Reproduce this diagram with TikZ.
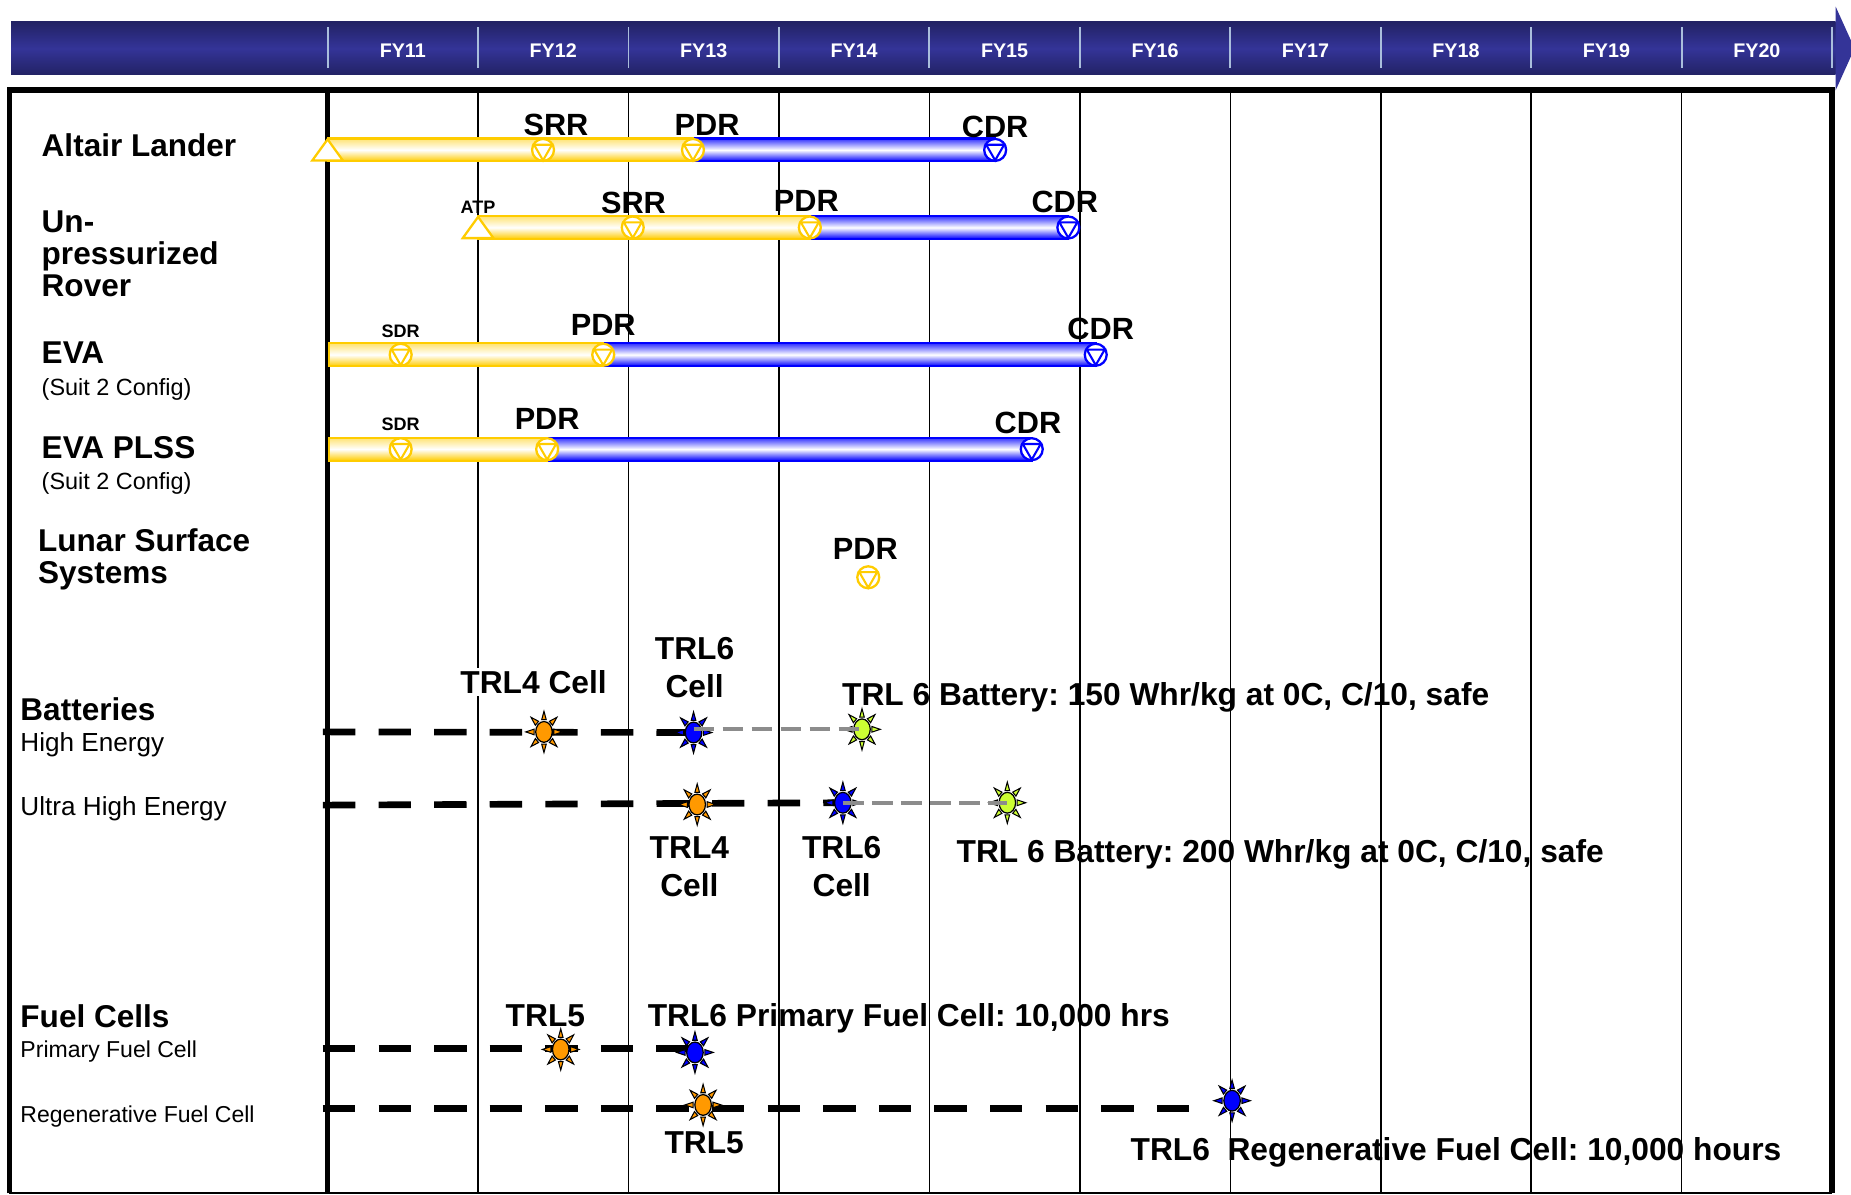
\documentclass[tikz,border=0pt]{standalone}
\usepackage{fontspec}
\setmainfont{Liberation Sans}
\usepackage{tikz}
\usetikzlibrary{positioning,calc}
\frenchspacing

\definecolor{hdrblue}{RGB}{52,52,152}
\definecolor{hdrdeep}{RGB}{34,34,100}
\definecolor{hdrline}{RGB}{170,190,220}
\definecolor{msyellow}{RGB}{255,204,0}
\definecolor{msblue}{RGB}{0,0,255}
\definecolor{starorange}{RGB}{255,153,0}
\definecolor{starblue}{RGB}{0,0,255}
\definecolor{stargreen}{RGB}{204,255,51}
\definecolor{goalgray}{RGB}{140,140,140}

\tikzset{
  msmark/.pic={
    \path[pic actions, fill=white, line width=1.1pt] (0,0) circle [radius=9.3];
    \path[pic actions, line width=1pt] (-7.6,-4.4) -- (7.6,-4.4) -- (0,8.8) -- cycle;
  },
  atpmark/.pic={
    \path[pic actions, fill=white, line width=1.1pt] (-13,9) -- (0,-9) -- (13,9) -- cycle;
  },
  trlstar/.pic={
    \foreach \a in {0,45,...,315}
      \path[pic actions, draw=black, line width=0.5pt]
        ({8.6*cos(\a-13)},{10.6*sin(\a-13)}) -- ({15.5*cos(\a)},{17.5*sin(\a)})
        -- ({8.6*cos(\a+13)},{10.6*sin(\a+13)}) -- cycle;
    \path[pic actions, draw=black, line width=0.6pt] (0,0) ellipse [x radius=7, y radius=8.8];
  }
}

\begin{document}
\begin{tikzpicture}[
  x=0.02cm, y=-0.02cm,
  rowlbl/.style={anchor=base west, inner sep=0pt, align=left,
    font=\fontsize{15.2}{15.3}\selectfont\bfseries},
  sublbl/.style={anchor=base west, inner sep=0pt,
    font=\fontsize{12.6}{14}\selectfont},
  suitlbl/.style={anchor=base west, inner sep=0pt,
    font=\fontsize{11.3}{13}\selectfont},
  fclbl/.style={anchor=base west, inner sep=0pt,
    font=\fontsize{11.1}{13}\selectfont},
  mslbl/.style={anchor=base, inner sep=0pt,
    font=\fontsize{14.8}{15}\selectfont\bfseries},
  smalllbl/.style={anchor=base, inner sep=0pt,
    font=\fontsize{8.7}{9}\selectfont\bfseries},
  trllbl/.style={anchor=base, inner sep=0pt, align=center,
    font=\fontsize{15.3}{18.1}\selectfont\bfseries},
  goallbl/.style={anchor=base west, inner sep=0pt,
    font=\fontsize{15.3}{15.3}\selectfont\bfseries},
  fylbl/.style={anchor=base, inner sep=0pt, text=white,
    font=\fontsize{9.5}{9.5}\selectfont\bfseries},
  gridline/.style={line width=0.75pt, black},
  hdrsep/.style={line width=0.9pt, hdrline},
  ybar/.style={draw=msyellow, line width=1pt,
    top color=msyellow!55, bottom color=msyellow, middle color=white},
  bbar/.style={draw=msblue, line width=1pt,
    top color=msblue!80, bottom color=msblue, middle color=white},
  trldash/.style={line width=3.2pt, dash pattern=on 15.6pt off 11.2pt},
  goaldash/.style={line width=1.9pt, goalgray, dash pattern=on 10pt off 4pt}
]
\useasboundingbox (0,0) rectangle (1568,1012);

% --- Header arrow with fiscal years ---
\shade[top color=hdrdeep, bottom color=hdrdeep, middle color=hdrblue]
  (9.5,18.4) rectangle (1555,63.5);
\fill[hdrblue] (1555,5.6) -- (1571,41) -- (1555,76.5) -- cycle;
\foreach \i in {0,...,10}
  \draw[hdrsep] ({277.5+127.45*\i},23) -- ({277.5+127.45*\i},58);
\foreach \i [count=\yr from 11] in {0,...,9}
  \node[fylbl] (fy\yr) at ({341.2+127.45*\i},48.6) {FY\yr};

% --- Table frame and year grid ---
\foreach \i in {1,...,9}
  \draw[gridline] ({277.5+127.45*\i},76) -- ({277.5+127.45*\i},1011);
\draw[line width=2.6pt] (277.5,76) -- (277.5,1011);
\draw[line width=2.8pt] (8,1011) -- (8,76) -- (1552,76) -- (1552,1011);
\draw[line width=1pt] (8,1010.5) -- (1552,1010.5);

% --- Row labels ---
\node[rowlbl] (altair) at (35,132.7) {Altair Lander};
\node[rowlbl] (rover) at (35,251) {Un-\\pressurized\\Rover};
\node[rowlbl] (eva) at (35,308) {EVA};
\node[suitlbl] (evacfg) at (35,335) {(Suit 2 Config)};
\node[rowlbl] (plss) at (35,388) {EVA PLSS};
\node[suitlbl] (plsscfg) at (35,415) {(Suit 2 Config)};
\node[rowlbl] (lss) at (32,494) {Lunar Surface\\Systems};
\node[rowlbl] (batt) at (17,610) {Batteries};
\node[sublbl] (hiE) at (17,637) {High Energy};
\node[sublbl] (uhiE) at (17,691) {Ultra High Energy};
\node[rowlbl] (fuel) at (17,870) {Fuel Cells};
\node[fclbl] (prim) at (17,896) {Primary Fuel Cell};
\node[fclbl] (regen) at (17,951) {Regenerative Fuel Cell};

% --- Milestone positions ---
\coordinate (alATP) at (277.5,127);
\coordinate (alSRR) at (460,127);
\coordinate (alPDR) at (587,127);
\coordinate (alCDR) at (843,127);
\coordinate (urATP) at (405,192.7);
\coordinate (urSRR) at (536,192.7);
\coordinate (urPDR) at (686,192.7);
\coordinate (urCDR) at (905,192.7);
\coordinate (evStart) at (279,300.5);
\coordinate (evSDR) at (339.4,300.5);
\coordinate (evPDR) at (511,300.5);
\coordinate (evCDR) at (928.2,300.5);
\coordinate (plStart) at (279,380.5);
\coordinate (plSDR) at (339.4,380.5);
\coordinate (plPDR) at (463.5,380.5);
\coordinate (plCDR) at (874,380.5);
\coordinate (lsPDR) at (735.5,489);

% --- Schedule bars ---
\foreach \a/\b in {alPDR/alCDR, urPDR/urCDR, evPDR/evCDR, plPDR/plCDR}
  \path[bbar] ([yshift=5.5pt]\a) rectangle ([yshift=-5.5pt]\b);
\foreach \a/\b in {alATP/alPDR, urATP/urPDR, evStart/evPDR, plStart/plPDR}
  \path[ybar] ([yshift=5.5pt]\a) rectangle ([yshift=-5.5pt]\b);

% --- Milestone marks ---
\foreach \m in {alATP, urATP}
  \pic[draw=msyellow] at (\m) {atpmark};
\foreach \m in {alSRR, alPDR, urSRR, urPDR, evSDR, evPDR, plSDR, plPDR, lsPDR}
  \pic[draw=msyellow] at (\m) {msmark};
\foreach \m in {alCDR, urCDR, evCDR, plCDR}
  \pic[draw=msblue] at (\m) {msmark};

% --- Milestone labels ---
\node[mslbl] (alSRRl) at (471,114.5) {SRR};
\node[mslbl] (alPDRl) at (599,114.5) {PDR};
\node[mslbl] (alCDRl) at (843,116.5) {CDR};
\node[smalllbl] (urATPl) at (405,180.7) {ATP};
\node[mslbl] (urSRRl) at (536.6,180.7) {SRR};
\node[mslbl] (urPDRl) at (683,179) {PDR};
\node[mslbl] (urCDRl) at (902,180) {CDR};
\node[smalllbl] (evSDRl) at (339.4,285.7) {SDR};
\node[mslbl] (evPDRl) at (511,284) {PDR};
\node[mslbl] (evCDRl) at (932.4,288) {CDR};
\node[smalllbl] (plSDRl) at (339.4,364.8) {SDR};
\node[mslbl] (plPDRl) at (463.5,363.6) {PDR};
\node[mslbl] (plCDRl) at (870.8,366.8) {CDR};
\node[mslbl] (lsPDRl) at (733,473.8) {PDR};

% --- Technology readiness: batteries ---
\coordinate (hiStart) at (273.6,620);
\coordinate (hiTRL4) at (460.8,620);
\coordinate (hiTRL6) at (587.5,620.5);
\coordinate (hiGoal) at (730.2,617.8);
\coordinate (uhStart) at (273.6,682);
\coordinate (uhTRL4) at (590.6,681.5);
\coordinate (uhTRL6) at (714,680);
\coordinate (uhGoal) at (853.3,680);

\draw[trldash] (hiStart) -- (hiTRL6);
\draw[trldash] (uhStart) -- (uhTRL6);
\pic[fill=starorange] at (hiTRL4) {trlstar};
\pic[fill=starblue] at (hiTRL6) {trlstar};
\pic[fill=stargreen] at (hiGoal) {trlstar};
\pic[fill=starorange] at (uhTRL4) {trlstar};
\pic[fill=starblue] at (uhTRL6) {trlstar};
\pic[fill=stargreen] at (uhGoal) {trlstar};
\draw[goaldash] (hiTRL6 |- hiGoal) -- (hiGoal);
\draw[goaldash] (uhTRL6) -- (uhGoal);

\node[trllbl, fill=white, inner sep=1pt] (hiTRL4l) at (452,587.3) {TRL4 Cell};
\node[trllbl] (hiTRL6l) at (588.4,590.7) {TRL6\\Cell};
\node[goallbl] (hiGoall) at (713,598) {TRL 6 Battery: 150 Whr/kg at 0C, C/10, safe};
\node[trllbl] (uhTRL4l) at (584,759) {TRL4\\Cell};
\node[trllbl] (uhTRL6l) at (713,759) {TRL6\\Cell};
\node[goallbl] (uhGoall) at (810,731) {TRL 6 Battery: 200 Whr/kg at 0C, C/10, safe};

% --- Technology readiness: fuel cells ---
\coordinate (pfStart) at (273.6,888);
\coordinate (pfTRL5) at (475,889);
\coordinate (pfTRL6) at (588.7,891.5);
\coordinate (rfStart) at (273.6,939);
\coordinate (rfTRL5) at (595.6,936);
\coordinate (rfTRL6) at (1043.7,932.4);

\draw[trldash] (pfStart) -- (pfStart -| pfTRL6);
\draw[trldash] (rfStart) -- ([xshift=-16pt]rfStart -| rfTRL6);
\pic[fill=starorange] at (pfTRL5) {trlstar};
\pic[fill=starblue] at (pfTRL6) {trlstar};
\pic[fill=starorange] at (rfTRL5) {trlstar};
\pic[fill=starblue] at (rfTRL6) {trlstar};

\node[trllbl] (pfTRL5l) at (462,869.7) {TRL5};
\node[goallbl] (pfTRL6l) at (548.4,869.7) {TRL6 Primary Fuel Cell: 10,000 hrs};
\node[trllbl] (rfTRL5l) at (596.5,977) {TRL5};
\node[goallbl] (rfTRL6l) at (957.4,983) {TRL6\ \ Regenerative Fuel Cell: 10,000 hours};

\end{tikzpicture}
\end{document}
